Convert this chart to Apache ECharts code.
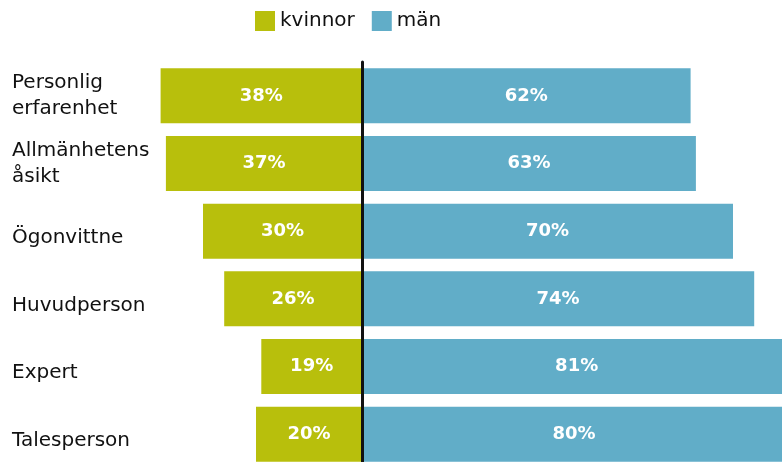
<!DOCTYPE html>
<html>
<head>
<meta charset="utf-8">
<style>
html,body{margin:0;padding:0;background:#fff;}
#chart{width:782px;height:462px;}
</style>
<script src="https://cdn.jsdelivr.net/npm/echarts@6/dist/echarts.min.js"></script>
</head>
<body>
<div id="chart"></div>
<script>
const categories = ['Personlig\nerfarenhet', 'Allmänhetens\nåsikt', 'Ögonvittne', 'Huvudperson', 'Expert', 'Talesperson'];
const womenPct = [38, 37, 30, 26, 19, 20];
const menPct = [62, 63, 70, 74, 81, 80];
const seriesNames = ['kvinnor', 'män'];

const FONT = 'DejaVu Sans';
const chart = echarts.init(document.getElementById('chart'), null, {renderer: 'canvas'});

const valueLabel = {
  show: true,
  position: 'inside',
  color: '#ffffff',
  fontFamily: FONT,
  fontWeight: 'bold',
  fontSize: 18,
  padding: [4, 0, 0, 0]
};

chart.setOption({
  animation: false,
  backgroundColor: '#ffffff',
  legend: {
    data: seriesNames,
    left: 250,
    top: 6,
    icon: 'rect',
    itemWidth: 20,
    itemHeight: 20,
    itemGap: 17,
    textStyle: {fontFamily: FONT, fontSize: 20, color: '#111111'}
  },
  grid: {
    left: 44,
    right: -110,
    top: 62,
    bottom: -6,
    containLabel: false,
    outerBoundsMode: 'none'
  },
  xAxis: {
    type: 'value',
    min: -60,
    max: 100,
    show: false,
    splitLine: {show: false}
  },
  yAxis: [
    {
      type: 'category',
      inverse: true,
      position: 'left',
      data: categories,
      axisLine: {show: false, onZero: false},
      axisTick: {show: false},
      splitLine: {show: false},
      axisLabel: {
        show: true,
        interval: 0,
        hideOverlap: false,
        margin: 32,
        align: 'left',
        fontFamily: FONT,
        fontSize: 20,
        color: '#111111',
        lineHeight: 26,
        formatter: function (v) {
          return v.indexOf('\n') >= 0 ? v : '{s|' + v + '}';
        },
        rich: {
          s: {fontFamily: FONT, fontSize: 20, color: '#111111', lineHeight: 26, padding: [13, 0, 0, 0]}
        }
      }
    },
    {
      type: 'category',
      inverse: true,
      position: 'left',
      data: categories,
      z: 10,
      axisLine: {show: true, onZero: true, lineStyle: {color: '#111111', width: 3}},
      axisTick: {show: false},
      axisLabel: {show: false},
      splitLine: {show: false}
    }
  ],
  series: [
    {
      name: seriesNames[0],
      type: 'bar',
      stack: 'total',
      barWidth: 55,
      itemStyle: {color: '#b8bf0c'},
      label: Object.assign({}, valueLabel, {
        formatter: function (p) { return Math.abs(p.value) + '%'; }
      }),
      data: womenPct.map(function (v) { return -v; })
    },
    {
      name: seriesNames[1],
      type: 'bar',
      stack: 'total',
      barWidth: 55,
      itemStyle: {color: '#61adc8'},
      label: Object.assign({}, valueLabel, {
        formatter: function (p) { return p.value + '%'; }
      }),
      data: menPct
    }
  ]
});
</script>
</body>
</html>
